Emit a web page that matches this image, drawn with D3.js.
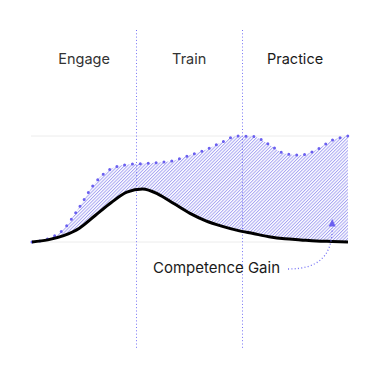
<!DOCTYPE html>
<html>
<head>
<meta charset="utf-8">
<script src="https://cdn.jsdelivr.net/npm/d3@7"></script>
<style>
  body { margin: 0; background: #fff; }
  text { font-family: Inter, "Noto Sans", sans-serif; fill: #333; }
</style>
</head>
<body>
<div id="chart"></div>
<script>
// progress along the programme (0..100) and the two curves
var steps = [0, 5, 10, 15, 20, 25, 30, 35, 40, 45, 50, 55, 60, 65, 70, 75, 80, 85, 90, 95, 100];
var potential = [0, 0.03, 0.12, 0.33, 0.56, 0.69, 0.73, 0.74, 0.75, 0.77, 0.82, 0.87, 0.94, 1.0, 0.995, 0.92, 0.835, 0.82, 0.87, 0.96, 1.0];
var competence = [0, 0.02, 0.06, 0.13, 0.25, 0.37, 0.47, 0.50, 0.45, 0.36, 0.27, 0.20, 0.15, 0.11, 0.08, 0.05, 0.03, 0.02, 0.01, 0.005, 0];

var stages = ["Engage", "Train", "Practice"];
var stageBounds = [0, 33, 66.5, 100];
var gridValues = [0, 1];
var annotation = "Competence Gain";

var width = 379, height = 379;
var margin = {top: 30, right: 31, bottom: 31, left: 31};

var svg = d3.select("#chart")
    .append("svg")
        .attr("width", width)
        .attr("height", height);

var x = d3.scaleLinear()
    .domain([0, 100])
    .range([margin.left + 1, width - margin.right]);

var y = d3.scaleLinear()
    .domain([0, 1])
    .range([242, 136]);

var defs = svg.append("defs");

defs.append("pattern")
    .attr("id", "hatch")
    .attr("patternUnits", "userSpaceOnUse")
    .attr("width", 2.3)
    .attr("height", 10)
    .attr("patternTransform", "rotate(45)")
  .append("line")
    .attr("x1", 0.5).attr("y1", 0)
    .attr("x2", 0.5).attr("y2", 10)
    .attr("stroke", "#9f9cf0")
    .attr("stroke-width", 0.9);

// light grid lines
svg.selectAll(".grid")
    .data(gridValues)
    .enter()
    .append("line")
    .attr("class", "grid")
    .attr("x1", margin.left)
    .attr("x2", x(100))
    .attr("y1", function(d) { return y(d); })
    .attr("y2", function(d) { return y(d); })
    .attr("stroke", "#ececec")
    .attr("stroke-width", 1);

var pts = steps.map(function(s, i) {
    return {x: s, top: potential[i], bottom: competence[i]};
});

var area = d3.area()
    .x(function(d) { return x(d.x); })
    .y0(function(d) { return y(d.bottom); })
    .y1(function(d) { return y(d.top); })
    .curve(d3.curveMonotoneX);

svg.append("path")
    .datum(pts)
    .attr("d", area)
    .attr("fill", "url(#hatch)");

// stage dividers
svg.selectAll(".divider")
    .data(stageBounds.slice(1, -1))
    .enter()
    .append("line")
    .attr("class", "divider")
    .attr("x1", function(d) { return Math.round(x(d)) + 0.5; })
    .attr("x2", function(d) { return Math.round(x(d)) + 0.5; })
    .attr("y1", margin.top)
    .attr("y2", height - margin.bottom)
    .attr("stroke", "#7572f5")
    .attr("stroke-width", 1)
    .attr("stroke-dasharray", "1,2.3");

// dotted upper line
var topLine = d3.line()
    .x(function(d) { return x(d.x); })
    .y(function(d) { return y(d.top); })
    .curve(d3.curveMonotoneX);

svg.append("path")
    .datum(pts)
    .attr("d", topLine)
    .attr("fill", "none")
    .attr("stroke", "#6a5ff0")
    .attr("stroke-width", 3)
    .attr("stroke-linecap", "round")
    .attr("stroke-dasharray", "0,7.9");

// competence curve
var botLine = d3.line()
    .x(function(d) { return x(d.x); })
    .y(function(d) { return y(d.bottom); })
    .curve(d3.curveMonotoneX);

svg.append("path")
    .datum(pts)
    .attr("d", botLine)
    .attr("fill", "none")
    .attr("stroke", "#000")
    .attr("stroke-width", 3);

// stage labels
svg.selectAll(".stage")
    .data(stages)
    .enter()
    .append("text")
    .attr("class", "stage")
    .attr("x", function(d, i) { return x((stageBounds[i] + stageBounds[i + 1]) / 2); })
    .attr("y", 64)
    .attr("text-anchor", "middle")
    .style("font-size", "14.5px")
    .style("fill", function(d, i) { return i === 2 ? "#1a1a1a" : "#333"; })
    .text(function(d) { return d; });

// annotation
svg.append("text")
    .attr("x", 153)
    .attr("y", 273)
    .style("font-size", "15px")
    .style("fill", "#1a1a1a")
    .text(annotation);

var ax = x(95), ay = y(0.15);
svg.append("path")
    .attr("d", "M" + 288 + "," + 269 + " C" + (ax - 16) + "," + 269 + " " + ax + "," + 258 + " " + ax + "," + (ay + 2))
    .attr("fill", "none")
    .attr("stroke", "#7572f5")
    .attr("stroke-width", 1.3)
    .attr("stroke-dasharray", "1,2.3");

svg.append("path")
    .attr("d", "M" + ax + "," + (ay - 7) + " L" + (ax + 3.5) + "," + (ay + 0.5) + " L" + (ax - 3.5) + "," + (ay + 0.5) + "Z")
    .attr("fill", "#6a5ff0");
</script>
</body>
</html>
